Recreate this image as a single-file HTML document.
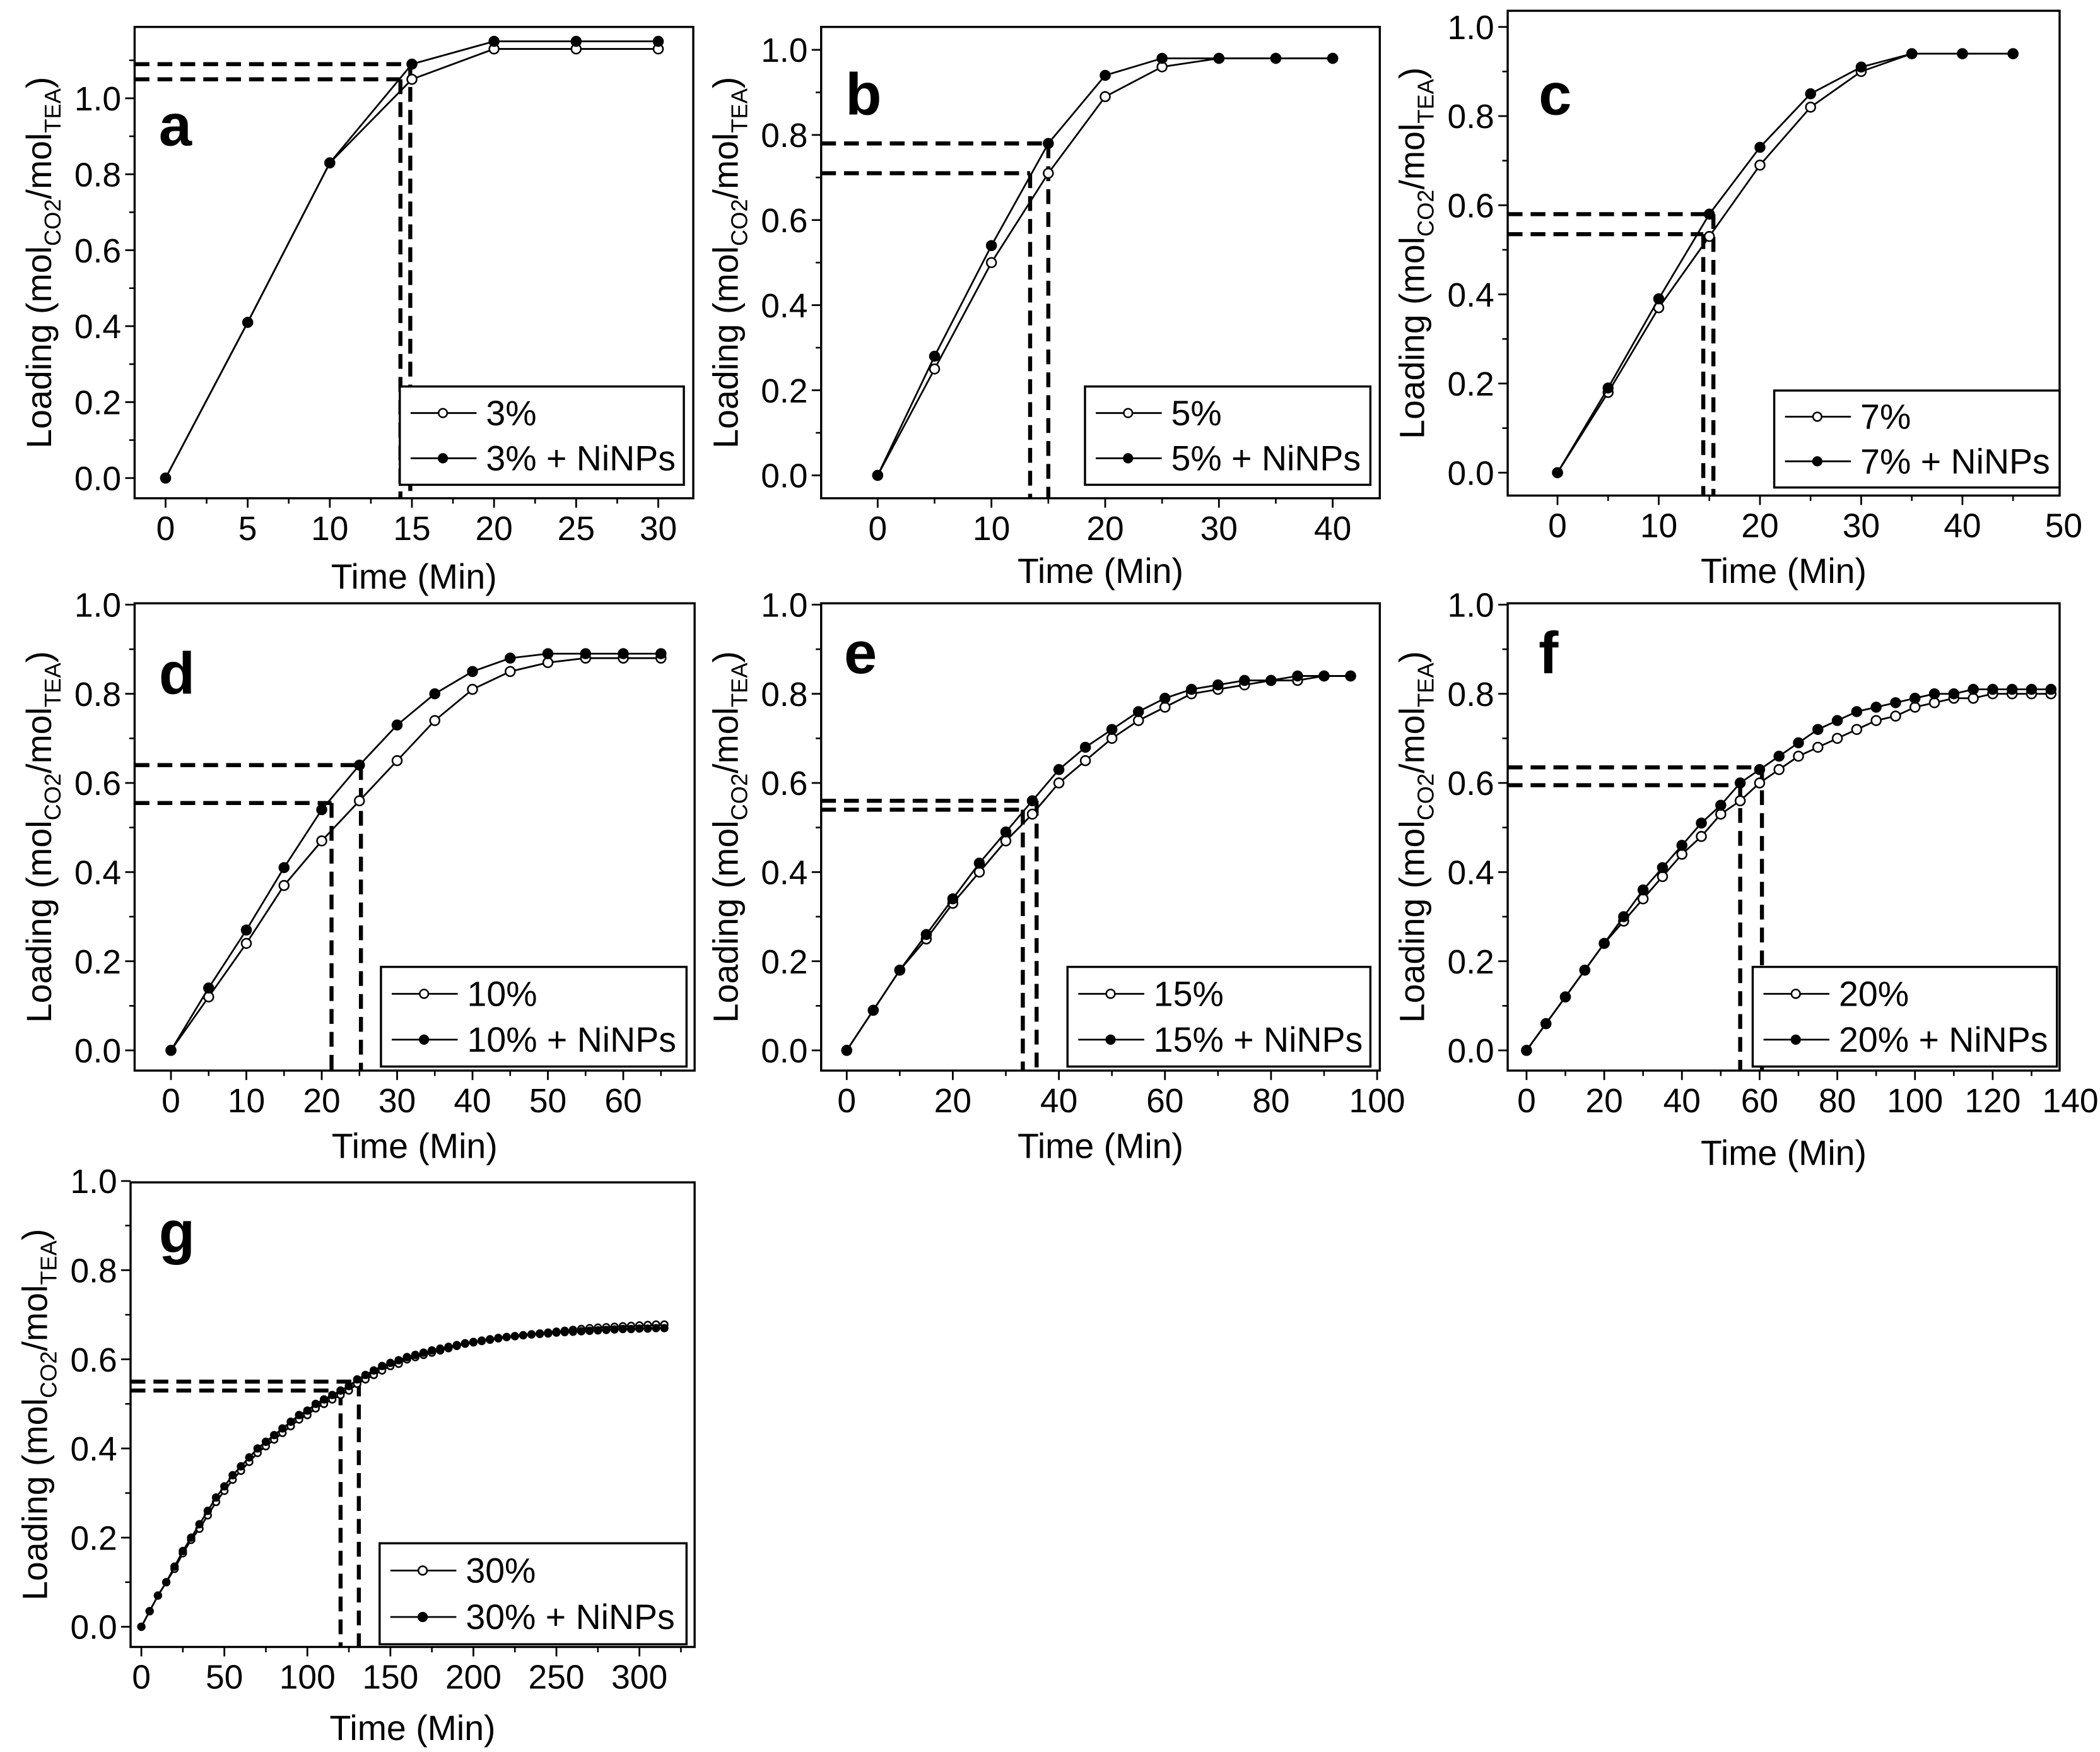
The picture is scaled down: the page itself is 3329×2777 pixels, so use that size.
<!DOCTYPE html>
<html><head><meta charset="utf-8"><style>
html,body{margin:0;padding:0;background:#fff}
svg{display:block}
text{font-family:"Liberation Sans Narrow","Liberation Sans",sans-serif;fill:#000}
</style></head><body>
<svg id="fig" xmlns="http://www.w3.org/2000/svg" width="3329" height="2777" viewBox="0 0 1560 1301" preserveAspectRatio="none"></svg>
<script>
// ---- data ----
const aTime=[0,5,10,15,20,25,30];
const aOpen=[0,0.41,0.83,1.05,1.13,1.13,1.13];
const aFilled=[0,0.41,0.83,1.09,1.15,1.15,1.15];
const aXTicks=[0,5,10,15,20,25,30];
const bTime=[0,5,10,15,20,25,30,35,40];
const bOpen=[0,0.25,0.5,0.71,0.89,0.96,0.98,0.98,0.98];
const bFilled=[0,0.28,0.54,0.78,0.94,0.98,0.98,0.98,0.98];
const bXTicks=[0,10,20,30,40];
const cTime=[0,5,10,15,20,25,30,35,40,45];
const cOpen=[0,0.18,0.37,0.53,0.69,0.82,0.90,0.94,0.94,0.94];
const cFilled=[0,0.19,0.39,0.58,0.73,0.85,0.91,0.94,0.94,0.94];
const cXTicks=[0,10,20,30,40,50];
const dTime=[0,5,10,15,20,25,30,35,40,45,50,55,60,65];
const dOpen=[0,0.12,0.24,0.37,0.47,0.56,0.65,0.74,0.81,0.85,0.87,0.88,0.88,0.88];
const dFilled=[0,0.14,0.27,0.41,0.54,0.64,0.73,0.80,0.85,0.88,0.89,0.89,0.89,0.89];
const dXTicks=[0,10,20,30,40,50,60];
const eTime=[0,5,10,15,20,25,30,35,40,45,50,55,60,65,70,75,80,85,90,95];
const eOpen=[0,0.09,0.18,0.25,0.33,0.40,0.47,0.53,0.60,0.65,0.70,0.74,0.77,0.80,0.81,0.82,0.83,0.83,0.84,0.84];
const eFilled=[0,0.09,0.18,0.26,0.34,0.42,0.49,0.56,0.63,0.68,0.72,0.76,0.79,0.81,0.82,0.83,0.83,0.84,0.84,0.84];
const eXTicks=[0,20,40,60,80,100];
const fTime=[0,5,10,15,20,25,30,35,40,45,50,55,60,65,70,75,80,85,90,95,100,105,110,115,120,125,130,135];
const fOpen=[0,0.06,0.12,0.18,0.24,0.29,0.34,0.39,0.44,0.48,0.53,0.56,0.60,0.63,0.66,0.68,0.70,0.72,0.74,0.75,0.77,0.78,0.79,0.79,0.80,0.80,0.80,0.80];
const fFilled=[0,0.06,0.12,0.18,0.24,0.30,0.36,0.41,0.46,0.51,0.55,0.60,0.63,0.66,0.69,0.72,0.74,0.76,0.77,0.78,0.79,0.80,0.80,0.81,0.81,0.81,0.81,0.81];
const fXTicks=[0,20,40,60,80,100,120,140];
const gTime=[0,5,10,15,20,25,30,35,40,45,50,55,60,65,70,75,80,85,90,95,100,105,110,115,120,125,130,135,140,145,150,155,160,165,170,175,180,185,190,195,200,205,210,215,220,225,230,235,240,245,250,255,260,265,270,275,280,285,290,295,300,305,310,315];
const gOpen=[0,0.035,0.07,0.10,0.13,0.165,0.195,0.22,0.25,0.28,0.305,0.33,0.35,0.37,0.39,0.405,0.42,0.435,0.45,0.465,0.475,0.49,0.50,0.51,0.52,0.53,0.545,0.555,0.565,0.575,0.585,0.59,0.60,0.605,0.61,0.615,0.62,0.625,0.63,0.635,0.638,0.641,0.644,0.647,0.65,0.652,0.654,0.656,0.658,0.66,0.662,0.664,0.666,0.668,0.67,0.671,0.672,0.673,0.674,0.675,0.676,0.677,0.678,0.678];
const gFilled=[0,0.035,0.07,0.10,0.135,0.17,0.2,0.23,0.26,0.29,0.315,0.34,0.36,0.38,0.40,0.415,0.43,0.445,0.46,0.475,0.485,0.50,0.51,0.52,0.53,0.54,0.555,0.565,0.575,0.585,0.592,0.598,0.605,0.61,0.615,0.62,0.624,0.628,0.632,0.636,0.639,0.642,0.645,0.648,0.65,0.652,0.654,0.656,0.657,0.658,0.66,0.661,0.662,0.663,0.664,0.665,0.666,0.667,0.668,0.668,0.669,0.669,0.67,0.67];
const gXTicks=[0,50,100,150,200,250,300];
const yTicks=[0,0.2,0.4,0.6,0.8,1.0];

const panels=[
 {id:'a',t:aTime,o:aOpen,f:aFilled,xt:aXTicks,box:[100,20,515,370],x0:[0,123],x1:[30,489],y0:355,y1:73,dash:[[1.05,14.3],[1.09,14.9]],leg:[297,287,508,360],lab:'3%',letter:[118,108],xlabY:437,marker:'sq'},
 {id:'b',t:bTime,o:bOpen,f:bFilled,xt:bXTicks,box:[610,20,1025,370],x0:[0,652],x1:[40,990],y0:353,y1:37,dash:[[0.78,15.0],[0.71,13.4]],leg:[806,287,1018,360],lab:'5%',letter:[628,85],xlabY:433},
 {id:'c',t:cTime,o:cOpen,f:cFilled,xt:cXTicks,box:[1120,8,1530,368],x0:[0,1157],x1:[50,1533],y0:351,y1:20,dash:[[0.58,15.4],[0.535,14.4]],leg:[1318,290,1530,362],lab:'7%',letter:[1143,85],xlabY:433,marker:'sq'},
 {id:'d',t:dTime,o:dOpen,f:dFilled,xt:dXTicks,box:[100,448,516,795],x0:[0,127],x1:[60,463],y0:780,y1:449,dash:[[0.64,25.2],[0.555,21.3]],leg:[283,718,510,792],lab:'10%',letter:[118,515],xlabY:860},
 {id:'e',t:eTime,o:eOpen,f:eFilled,xt:eXTicks,box:[610,448,1025,795],x0:[0,629],x1:[100,1023],y0:780,y1:449,dash:[[0.56,35.8],[0.54,33.2]],leg:[793,718,1018,792],lab:'15%',letter:[627,500],xlabY:860},
 {id:'f',t:fTime,o:fOpen,f:fFilled,xt:fXTicks,box:[1120,448,1530,795],x0:[0,1134],x1:[140,1538],y0:780,y1:449,dash:[[0.635,60.6],[0.595,55]],leg:[1302,718,1528,792],lab:'20%',letter:[1143,500],xlabY:865},
 {id:'g',t:gTime,o:gOpen,f:gFilled,xt:gXTicks,box:[97,878,516,1223],x0:[0,105],x1:[300,475],y0:1208,y1:877,dash:[[0.55,131],[0.53,120]],leg:[282,1146,510,1221],lab:'30%',letter:[118,930],xlabY:1292,marker:'sq',ms:2.5}
];
const NS='http://www.w3.org/2000/svg';
const svg=document.getElementById('fig');
function el(tag,attrs,parent){const e=document.createElementNS(NS,tag);for(const k in attrs)e.setAttribute(k,attrs[k]);(parent||svg).appendChild(e);return e;}
panels.forEach(p=>{
 const g=el('g',{});
 
 
 const X=v=>p.x0[1]+(v-p.x0[0])*(p.x1[1]-p.x0[1])/(p.x1[0]-p.x0[0]);
 const Y=v=>p.y0+(p.y1-p.y0)*v;
 const [L,T,R,B]=p.box;
 const frame=el('rect',{x:L,y:T,width:R-L,height:B-T,fill:'none',stroke:'#000','stroke-width':1.6},g);
 
 
 // x ticks
 const step=p.xt[1]-p.xt[0];
 p.xt.forEach((v,i)=>{
  const x=X(v);
  if(x>=L-1&&x<=R+1) el('line',{x1:x,y1:B,x2:x,y2:B+7,stroke:'#000','stroke-width':1.3},g);
  const xm=X(v+step/2); if(xm<R) el('line',{x1:xm,y1:B,x2:xm,y2:B+4,stroke:'#000','stroke-width':1.2},g);
  const xm2=X(v-step/2); if(i==0&&xm2>L) el('line',{x1:xm2,y1:B,x2:xm2,y2:B+4,stroke:'#000','stroke-width':1.2},g);
  const t=el('text',{x:x,y:B+31,'font-size':25,'text-anchor':'middle'},g);t.textContent=v;
  
  
 });
 yTicks.forEach((v,i)=>{
  const y=Y(v);
  el('line',{x1:L,y1:y,x2:L-7,y2:y,stroke:'#000','stroke-width':1.3},g);
  const ym=Y(v+0.1); if(ym>T) el('line',{x1:L,y1:ym,x2:L-4,y2:ym,stroke:'#000','stroke-width':1.2},g);
  const t=el('text',{x:L-10,y:y+9,'font-size':25,'text-anchor':'end'},g);t.textContent=v.toFixed(1);
  
  
 });
 // axis titles
 const xl=el('text',{x:(L+R)/2,y:p.xlabY,'font-size':26,'text-anchor':'middle'},g);xl.textContent='Time (Min)';
 
 
 const cy=(T+B)/2;
 const yl=el('text',{x:0,y:0,'font-size':26,'text-anchor':'middle',transform:`translate(${L-62},${cy}) rotate(-90)`},g);
 yl.innerHTML='Loading (mol<tspan font-size="17" dy="7">CO2</tspan><tspan dy="-7">/mol</tspan><tspan font-size="17" dy="7">TEA</tspan><tspan dy="-7">)</tspan>';
 
 
 // letter
 const lt=el('text',{x:p.letter[0],y:p.letter[1],'font-size':44,'font-weight':'bold','font-family':'Liberation Sans, sans-serif'},g);lt.textContent=p.id;
 
 
 // dashed guides
 p.dash.forEach(d=>{
  const yy=Y(d[0]), xx=X(d[1]);
  const h=el('line',{x1:L,y1:yy,x2:xx,y2:yy,stroke:'#000','stroke-width':3,'stroke-dasharray':'11,6'},g);
  
  
  const v=el('line',{x1:xx,y1:yy,x2:xx,y2:B,stroke:'#000','stroke-width':3,'stroke-dasharray':'11,6'},g);
  
  
 });
 const ms=p.ms||3.5;
 [['o','#fff'],['f','#000']].forEach(([k,fill])=>{
  const vals=p[k];
  const pts=p.t.map((t,i)=>X(t)+','+Y(vals[i])).join(' ');
  const pl=el('polyline',{points:pts,fill:'none',stroke:'#000','stroke-width':1.3},g);
  
  
  p.t.forEach((t,i)=>{
   const c=el('circle',{cx:X(t),cy:Y(vals[i]),r:ms,fill:fill,stroke:'#000','stroke-width':1.2},g);
   
   
  });
 });
 // legend
 const [lx,ly,rx,by]=p.leg;
 const lg=el('g',{},g);
 
 
 el('rect',{x:lx,y:ly,width:rx-lx,height:by-ly,fill:'#fff',stroke:'#000','stroke-width':1.6},lg);
 const rows=[[p.lab,'#fff'],[p.lab+' + NiNPs','#000']];
 rows.forEach((r,i)=>{
  const yy=ly+(by-ly)*(i==0?0.27:0.73);
  el('line',{x1:lx+8,y1:yy,x2:lx+57,y2:yy,stroke:'#000','stroke-width':1.3},lg);
  el('circle',{cx:lx+32,cy:yy,r:3.2,fill:r[1],stroke:'#000','stroke-width':1.2},lg);
  const t=el('text',{x:lx+64,y:yy+9,'font-size':26},lg);t.textContent=r[0];
  
  
 });
});
</script>
</body></html>
